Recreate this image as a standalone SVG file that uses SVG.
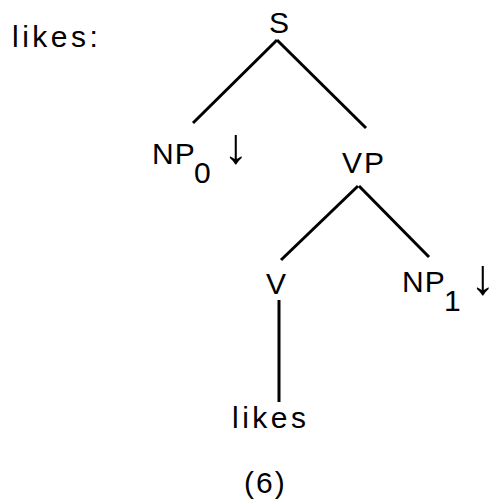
<svg xmlns="http://www.w3.org/2000/svg" width="494" height="502" viewBox="0 0 494 502">
<style>
text{font-family:"Liberation Sans",Arial,sans-serif;font-size:30px;fill:#000}
.sp{letter-spacing:2px}
.arr{font-family:"Liberation Sans","DejaVu Sans",sans-serif;font-size:50px;text-anchor:middle}
.wide{letter-spacing:3.5px}
line{stroke:#000;stroke-width:3;stroke-linecap:butt}
</style>
<rect width="494" height="502" fill="#fff"/>
<text id="title" class="wide" x="12" y="47">likes:</text>
<g id="connectors">
<line x1="277" y1="40" x2="193" y2="123"/>
<line x1="277" y1="40" x2="366" y2="128"/>
<line x1="358" y1="186" x2="281" y2="260"/>
<line x1="359" y1="186" x2="429" y2="257"/>
<line x1="279" y1="300" x2="279" y2="402"/>
</g>
<g id="node-S"><text x="269" y="33">S</text></g>
<g id="node-NP0"><text x="152" y="164">N<tspan dx="1">P</tspan></text><text x="194" y="183">0</text><text class="arr" x="236" y="163">↓</text></g>
<g id="node-VP"><text x="342" y="173">V<tspan dx="2">P</tspan></text></g>
<g id="node-V"><text x="266" y="294">V</text></g>
<g id="node-NP1"><text x="402" y="292">N<tspan dx="1">P</tspan></text><text x="444" y="311">1</text><text class="arr" x="483" y="294">↓</text></g>
<g id="node-likes"><text class="wide" x="232" y="428">likes</text></g>
<text id="caption" class="sp" x="244" y="493">(6)</text>
</svg>
